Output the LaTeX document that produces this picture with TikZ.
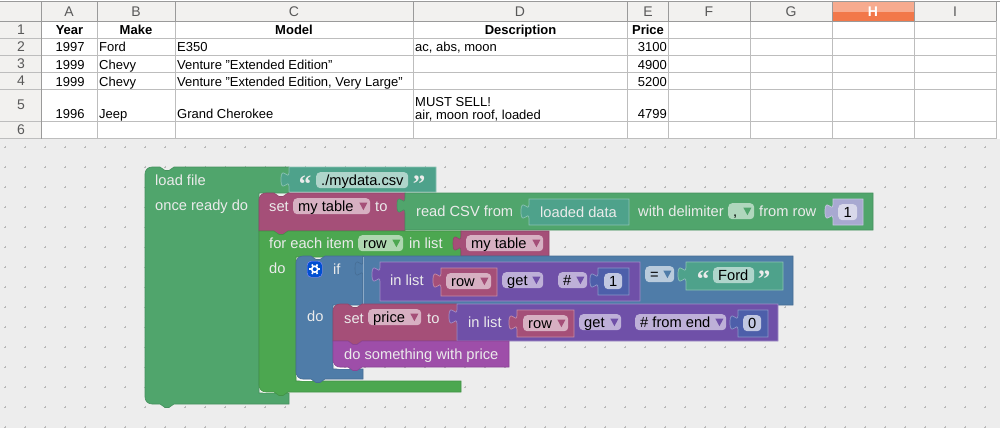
\documentclass[tikz,border=0pt]{standalone}
\usepackage{fontspec}
\setmainfont{Liberation Sans}
\newfontfamily\quotefont{Liberation Serif}
\usetikzlibrary{calc,positioning}
\definecolor{paper}{HTML}{EDEDED}
\definecolor{headfill}{HTML}{F2F1EF}
\definecolor{headline}{HTML}{9A9A9A}
\definecolor{cellline}{HTML}{BDBDBD}
\definecolor{selecttop}{HTML}{F7AB8F}
\definecolor{selectlow}{HTML}{F2784A}
\definecolor{loadgreen}{HTML}{50A56C}
\definecolor{loopgreen}{HTML}{4CA750}
\definecolor{strteal}{HTML}{4EA28B}
\definecolor{varred}{HTML}{A54F78}
\definecolor{ifblue}{HTML}{4F7CA8}
\definecolor{listpurple}{HTML}{6F50A8}
\definecolor{procpurple}{HTML}{9E4EA9}
\definecolor{numlight}{HTML}{A8A9D1}
\definecolor{numblue}{HTML}{4D5FAA}
\tikzset{
    griddot/.style = {
        draw=black!28,
        line width=0.5pt,
    },
    colhead/.style = {
        text=black!65,
        font=\fontsize{14}{14}\selectfont,
        inner sep=0pt,
    },
    cell/.style = {
        font=\fontsize{13}{13}\selectfont,
        inner sep=0pt,
        anchor=base west,
    },
    cellhead/.style = {
        font=\fontsize{13}{13}\selectfont\bfseries,
        inner sep=0pt,
        anchor=base,
    },
    block/.style = {
        fill=#1,
        draw=#1!88!black,
        line width=0.6pt,
    },
    inset/.style = {
        fill=#1,
        draw=#1!65!white,
        line width=0.7pt,
    },
    blocktext/.style = {
        text=white!92!black,
        font=\fontsize{14.67}{15}\selectfont,
        inner sep=0pt,
        anchor=base west,
    },
    pillbox/.style = {
        rounded corners=4pt,
        minimum height=16pt,
        inner sep=0pt,
        anchor=north west,
    },
    pilltext/.style = {
        text=black,
        font=\fontsize{14.67}{15}\selectfont,
        inner sep=0pt,
        anchor=base west,
    },
    quotemark/.style = {
        text=white!92!black,
        font=\quotefont\bfseries\fontsize{25}{25}\selectfont,
        inner sep=0pt,
        anchor=base,
    },
    inner edge/.style = {
        draw=white,
        line width=0.9pt,
    },
}
% pieces of a block outline
\newcommand{\notchtop}[2]{-- (#1-7,#2) -- (#1-2,#2+3.5) -- (#1+2,#2+3.5) -- (#1+7,#2)}
\newcommand{\notchbot}[2]{-- (#1+7,#2) -- (#1+2,#2+3.5) -- (#1-2,#2+3.5) -- (#1-7,#2)}
\newcommand{\topleft}[2]{.. controls (#1,#2+3) and (#1+3,#2) .. (#1+7,#2)}
\newcommand{\botleft}[2]{.. controls (#1+3,#2) and (#1,#2-3) .. (#1,#2-7)}
\newcommand{\tabL}[2]{-- (#1,#2+15) .. controls (#1,#2+5) and (#1-8,#2+23) .. (#1-8,#2+7.5) .. controls (#1-8,#2-8) and (#1,#2+10) .. (#1,#2)}
% left, top, right, bottom, look
\newcommand{\valblock}[5]{\draw[#5] (#1,#2) -- (#3,#2) -- (#3,#4) -- (#1,#4) -- (#1,#2+20) \tabL{#1}{#2+5} -- cycle;}
% name, left, right, top, text, fill, arrow
\newcommand{\dropdown}[7]{%
    \node[pillbox, fill=#6, minimum width={(#3-#2)*1pt}] (#1) at (#2,#4) {};
    \node[pilltext] (#1text) at ([xshift=5pt,yshift=-5pt]#1.west) {#5};
    \path[fill=#7] ([xshift=-11pt,yshift=3.5pt]#1.east) -- ([xshift=-3pt,yshift=3.5pt]#1.east) -- ([xshift=-7pt,yshift=-4pt]#1.east) -- cycle;
}
% name, left, right, top, text, fill
\newcommand{\numfield}[6]{%
    \node[pillbox, fill=#6, minimum width={(#3-#2)*1pt}] (#1) at (#2,#4) {};
    \node[pilltext, anchor=center] (#1text) at (#1.center) {#5};
}
\begin{document}
\begin{tikzpicture}[x=1pt,y=-1pt]
    \useasboundingbox (0,0) rectangle (1000,428);
    \fill[white] (0,0) rectangle (1000,139);
    \fill[paper] (0,139) rectangle (1000,428);

    % sheet headers
    \fill[headfill] (0,2) rectangle (996,21.5);
    \fill[headfill] (0,2) rectangle (41.5,138);
    \fill[selecttop] (832,2) rectangle (914,12);
    \fill[selectlow] (832,12) rectangle (914,21.5);
    \foreach \y in {38.5,55.5,72.5,89.5,121.5,138.5}
        \draw[cellline] (0,\y) -- (996,\y);
    \foreach \x in {97.5,175.5,413.5,627.5,668.5,750.5,832.5,914.5,996.5}
        \draw[cellline] (\x,21.5) -- (\x,139);
    \draw[headline] (0,1.5) -- (1000,1.5);
    \draw[headline] (0,21.5) -- (996,21.5);
    \draw[headline] (41.5,1.5) -- (41.5,139);
    \foreach \x in {97.5,175.5,413.5,627.5,668.5,750.5,832.5,914.5,996.5}
        \draw[headline] (\x,1.5) -- (\x,21.5);
    \foreach \name/\x in {A/69,B/136,C/294,D/520,E/648,F/709,G/791,I/955}
        \node[colhead] (col\name) at (\x,12) {\name};
    \node[colhead, text=white, font=\fontsize{14}{14}\selectfont\bfseries] (colH) at (873,12) {H};
    \foreach \name/\y in {1/30,2/47,3/64,4/81,5/105,6/130}
        \node[colhead] (row\name) at (21,\y) {\name};

    % sheet cells
    \node[cellhead] (headyear) at (69.5,35) {Year};
    \node[cellhead] (headmake) at (136,35) {Make};
    \node[cellhead] (headmodel) at (294,35) {Model};
    \node[cellhead] (headdesc) at (520.5,35) {Description};
    \node[cellhead] (headprice) at (648,35) {Price};
    \node[cell] (year2) at (55.5,52) {1997};
    \node[cell] (make2) at (99,52) {Ford};
    \node[cell] (model2) at (177,52) {E350};
    \node[cell] (desc2) at (415,52) {ac, abs, moon};
    \node[cell, anchor=base east] (price2) at (667,52) {3100};
    \node[cell] (year3) at (55.5,69) {1999};
    \node[cell] (make3) at (99,69) {Chevy};
    \node[cell] (model3) at (177,69) {Venture "Extended Edition"};
    \node[cell, anchor=base east] (price3) at (667,69) {4900};
    \node[cell] (year4) at (55.5,86) {1999};
    \node[cell] (make4) at (99,86) {Chevy};
    \node[cell] (model4) at (177,86) {Venture "Extended Edition, Very Large"};
    \node[cell, anchor=base east] (price4) at (667,86) {5200};
    \node[cell] (year5) at (55.5,118) {1996};
    \node[cell] (make5) at (99,118) {Jeep};
    \node[cell] (model5) at (177,118) {Grand Cherokee};
    \node[cell, align=left, anchor=south west] (desc5) at (415,121) {MUST SELL!\\air, moon roof, loaded};
    \node[cell, anchor=base east] (price5) at (667,118) {4799};

    % workspace dots
    \foreach \x in {5,25,...,985}
        \foreach \y in {147,167,...,427}
            \draw[griddot] (\x-1.2,\y) -- (\x+1.2,\y) (\x,\y-1.2) -- (\x,\y+1.2);

    % load file
    \draw[block=loadgreen] (145,174) \topleft{145}{167} \notchtop{167}{167} -- (289,167) -- (289,193) -- (259,193) -- (259,393) -- (289,393) -- (289,404) \notchbot{167}{404} -- (152,404) \botleft{145}{404} -- cycle;
    \draw[inner edge] (259.5,387) .. controls (259.5,390) and (262,392.5) .. (266,392.5) -- (275,392.5);
    \valblock{289}{167}{436}{192}{inset=strteal}
    \node[blocktext] (loadfile) at (155,185) {load file};
    \node[blocktext] (onceready) at (155,210) {once ready do};
    \node[quotemark] (csvopen) at (305,192) {“};
    \dropdown{csvname}{316}{408}{172}{./mydata.csv}{strteal!45!white}{none}
    \node[quotemark] (csvclose) at (419,192) {”};

    % set my table
    \draw[block=varred] (259,200) \topleft{259}{193} \notchtop{281}{193} -- (405,193) -- (405,231) \notchbot{281}{231} -- (259,231) -- cycle;
    \valblock{405}{193}{873}{230}{block=loadgreen}
    \node[blocktext] (settable) at (269,211) {set};
    \dropdown{tablevar}{293}{370}{198}{my table}{varred!45!white}{varred}
    \node[blocktext] (settableto) at (375,211) {to};
    \node[blocktext] (readcsv) at (416,216) {read CSV from};
    \valblock{529}{199}{629}{225}{inset=strteal}
    \node[blocktext] (loaded) at (540,217) {loaded data};
    \node[blocktext] (delim) at (638,216) {with delimiter};
    \dropdown{delimvar}{728}{754}{203}{,}{loadgreen!45!white}{loadgreen}
    \node[blocktext] (fromrow) at (759,216) {from row};
    \valblock{833}{199}{863}{225}{inset=numlight}
    \numfield{rownum}{838}{857}{204}{1}{numlight!45!white}

    % for each item
    \draw[block=loopgreen] (259,231) \notchtop{281}{231} -- (461,231) -- (461,257) -- (296,257) -- (296,381) -- (461,381) -- (461,392) \notchbot{281}{392} -- (266,392) \botleft{259}{392} -- cycle;
    \draw[inner edge] (296.5,375) .. controls (296.5,378) and (299,380.5) .. (303,380.5) -- (312,380.5);
    \valblock{461}{231}{549}{256}{block=varred}
    \node[blocktext] (foreach) at (269,248) {for each item};
    \dropdown{rowvar}{358}{403}{235}{row}{loopgreen!45!white}{loopgreen}
    \node[blocktext] (foreachin) at (409,248) {in list};
    \node[blocktext] (foreachdo) at (269,273) {do};
    \dropdown{listvar}{466}{543}{235}{my table}{varred!45!white}{varred}

    % if
    \draw[block=ifblue] (296,263) \topleft{296}{256} \notchtop{318}{256} -- (363,256) -- (363,305) -- (333,305) -- (333,369) -- (363,369) -- (363,379) \notchbot{318}{379} -- (303,379) \botleft{296}{379} -- cycle;
    \draw[inner edge] (333.5,363) .. controls (333.5,366) and (336,368.5) .. (340,368.5) -- (349,368.5);
    \valblock{363}{256}{793}{305}{block=ifblue}
    \draw[ifblue!65!white, line width=0.7pt] (363.5,256.5) -- (363.5,304.5);
    \node[pillbox, minimum width=15pt, minimum height=16pt, fill=blue!62!cyan!82!black, draw=white!55!blue] (gear) at (307,261) {};
    \draw[white, line width=1.6pt] (gear.center) circle[radius=3pt];
    \foreach \a in {0,60,...,300}
        \draw[white, line width=1.6pt] ($(gear.center)+(\a:3.5)$) -- ($(gear.center)+(\a:5.5)$);
    \node[blocktext] (iflabel) at (333,274) {if};
    \node[blocktext] (ifdo) at (307,321) {do};

    % in list, row 1
    \valblock{380}{262}{640}{301}{inset=listpurple}
    \node[blocktext] (inlist) at (390,285) {in list};
    \valblock{441}{268}{497}{296}{inset=varred}
    \dropdown{itemvar}{446}{491}{273}{row}{varred!45!white}{varred}
    \dropdown{getone}{502}{543}{272}{get}{listpurple!45!white}{listpurple}
    \dropdown{wherenum}{558}{587}{272}{\#}{listpurple!45!white}{listpurple}
    \valblock{598}{268}{629}{295}{inset=numblue}
    \numfield{firstnum}{604}{622}{273}{1}{numblue!35!white}
    \dropdown{equals}{645}{674}{266}{=}{ifblue!40!white}{ifblue}
    \valblock{686}{262}{783}{290}{inset=strteal}
    \node[quotemark] (fordopen) at (703,287) {“};
    \dropdown{fordtext}{713}{754}{267}{Ford}{strteal!45!white}{none}
    \node[quotemark] (fordclose) at (764,287) {”};

    % set price
    \draw[block=varred] (333,311) \topleft{333}{304} \notchtop{355}{304} -- (457,304) -- (457,341) \notchbot{355}{341} -- (333,341) -- cycle;
    \node[blocktext] (setprice) at (344,323) {set};
    \dropdown{pricevar}{368}{421}{309}{price}{varred!45!white}{varred}
    \node[blocktext] (setpriceto) at (427,323) {to};
    \valblock{457}{304}{778}{341}{inset=listpurple}
    \node[blocktext] (inlisttwo) at (468,327) {in list};
    \valblock{517}{310}{574}{337}{inset=varred}
    \dropdown{itemvartwo}{523}{568}{315}{row}{varred!45!white}{varred}
    \dropdown{gettwo}{579}{621}{314}{get}{listpurple!45!white}{listpurple}
    \dropdown{whereend}{635}{726}{314}{\# from end}{listpurple!45!white}{listpurple}
    \valblock{738}{310}{768}{337}{inset=numblue}
    \numfield{lastnum}{743}{761}{315}{0}{numblue!35!white}

    % do something
    \draw[block=procpurple] (333,341) \notchtop{355}{341} -- (509,341) -- (509,367) \notchbot{355}{367} -- (340,367) \botleft{333}{367} -- cycle;
    \node[blocktext] (dosome) at (344,359) {do something with price};
\end{tikzpicture}
\end{document}
